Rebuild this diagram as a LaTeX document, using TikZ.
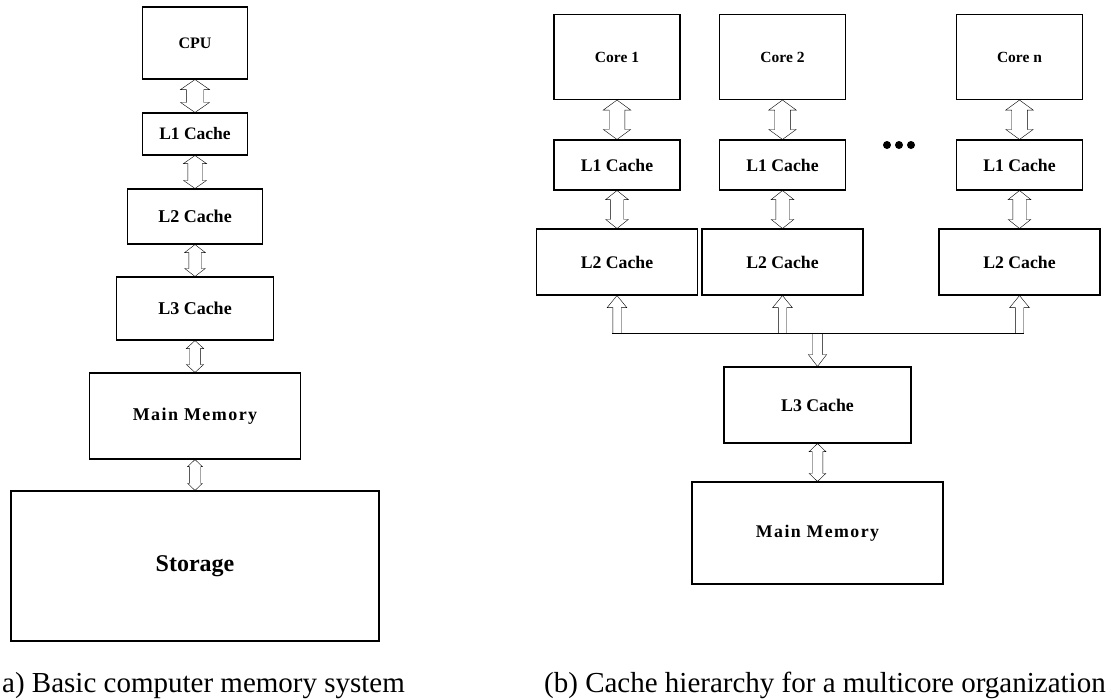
\documentclass[tikz,border=0pt]{standalone}
\usepackage{fontspec}
\setmainfont{Liberation Serif}
\usetikzlibrary{calc}
\tikzset{
  box/.style={draw, line width=1.1pt, inner sep=0pt, align=center, font=\bfseries},
  fs/.style={font=\bfseries\fontsize{#1}{#1}\selectfont},
  mmfont/.style={font=\bfseries\fontsize{#1}{#1}\selectfont\addfontfeature{LetterSpace=8}},
  arr/.style={line width=1.1pt, line join=miter},
  dbl/.style n args={3}{arr, to path={let \p1=(\tikztostart), \p2=(\tikztotarget) in
    (\x1,\y1) -- (\x1+#1pt,\y1-#3pt) -- (\x1+#2pt,\y1-#3pt) -- (\x1+#2pt,\y2+#3pt)
    -- (\x1+#1pt,\y2+#3pt) -- (\x1,\y2) -- (\x1-#1pt,\y2+#3pt) -- (\x1-#2pt,\y2+#3pt)
    -- (\x1-#2pt,\y1-#3pt) -- (\x1-#1pt,\y1-#3pt) -- cycle}},
  upa/.style n args={3}{arr, to path={let \p1=(\tikztostart), \p2=(\tikztotarget) in
    (\x1-#2pt,\y1) -- (\x1-#2pt,\y2-#3pt) -- (\x1-#1pt,\y2-#3pt) -- (\x1,\y2)
    -- (\x1+#1pt,\y2-#3pt) -- (\x1+#2pt,\y2-#3pt) -- (\x1+#2pt,\y1)}},
  downa/.style n args={3}{arr, to path={let \p1=(\tikztostart), \p2=(\tikztotarget) in
    (\x1-#2pt,\y1) -- (\x1-#2pt,\y2+#3pt) -- (\x1-#1pt,\y2+#3pt) -- (\x1,\y2)
    -- (\x1+#1pt,\y2+#3pt) -- (\x1+#2pt,\y2+#3pt) -- (\x1+#2pt,\y1)}},
  caption/.style={anchor=base west, inner sep=0pt, font=\fontsize{29}{32}\selectfont}
}
\begin{document}
\begin{tikzpicture}[x=1pt, y=-1pt]
\useasboundingbox (0,0) rectangle (1112,699);

% ---------- (a) ----------
\node[box, fs=16, minimum width=105pt, minimum height=72pt] (cpu) at (195,43) {CPU};
\node[box, fs=17.5, minimum width=105pt, minimum height=42pt] (al1) at (195,134) {L1 Cache};
\node[box, fs=18, minimum width=135pt, minimum height=55pt] (al2) at (195,216.5) {L2 Cache};
\node[box, fs=18, minimum width=157pt, minimum height=63pt] (al3) at (195,308.5) {L3 Cache};
\node[box, mmfont=18, minimum width=211pt, minimum height=86pt] (amm) at (195,416) {Main Memory};
\node[box, fs=24, minimum width=368pt, minimum height=150pt] (ast) at (195,566) {Storage};

\draw (cpu.south) to[dbl={14.5}{8.7}{10}] (al1.north);
\draw (al1.south) to[dbl={11.5}{7.2}{8}] (al2.north);
\draw (al2.south) to[dbl={10.3}{6.2}{8}] (al3.north);
\draw (al3.south) to[dbl={8.7}{5.3}{8}] (amm.north);
\draw (amm.south) to[dbl={7.3}{5.7}{7}] (ast.north);

\node[caption] (capa) at (2,692) {a) Basic computer memory system};

% ---------- (b) ----------
\foreach \k/\cx/\lab in {a/617/Core 1, b/782.5/Core 2, n/1019.5/Core n}{
  \node[box, fs=15.5, minimum width=126pt, minimum height=85pt] (core\k) at (\cx,57) {\lab};
  \node[box, fs=17.7, minimum width=126pt, minimum height=50pt] (bl1\k) at (\cx,165) {L1 Cache};
  \node[box, fs=17.7, minimum width=161pt, minimum height=66pt] (bl2\k) at (\cx,262) {L2 Cache};
}
\foreach \k in {a,b,n}{
  \coordinate (s1) at (core\k.south);
  \coordinate (t1) at (bl1\k.north);
  \coordinate (s2) at (bl1\k.south);
  \coordinate (t2) at (bl2\k.north);
  \draw (s1) to[dbl={13.7}{7.8}{10}] (t1);
  \draw (s2) to[dbl={11.3}{6.7}{9}] (t2);
}

\fill (887,145) circle (4pt) (899,145) circle (4pt) (911,145) circle (4pt);

\node[box, fs=17.8, minimum width=187pt, minimum height=76pt] (bl3) at (817.5,405) {L3 Cache};
\node[box, mmfont=17.8, minimum width=251pt, minimum height=102pt] (bmm) at (817.5,533) {Main Memory};

\coordinate (busy) at (0,333.3);
\coordinate (busL) at ($(bl2a.south |- busy)+(-4.2,0)$);
\coordinate (busR) at ($(bl2n.south |- busy)+(4.2,0)$);
\coordinate (busa) at (bl2a.south |- busy);
\coordinate (busb) at (bl2b.south |- busy);
\coordinate (busn) at (bl2n.south |- busy);
\coordinate (busd) at (bl3.north |- busy);
\draw[arr, line cap=rect] (busL) -- (busR);
\draw (busa) to[upa={9.8}{4.2}{12}] (bl2a.south);
\draw (busb) to[upa={9.8}{4.2}{12}] (bl2b.south);
\draw (busn) to[upa={9.8}{4.2}{12}] (bl2n.south);
\draw (busd) to[downa={9.2}{4.8}{12}] (bl3.north);
\draw (bl3.south) to[dbl={8.3}{5.3}{8}] (bmm.north);

\node[caption] (capb) at (544,692) {(b) Cache hierarchy for a multicore organization};
\end{tikzpicture}
\end{document}
